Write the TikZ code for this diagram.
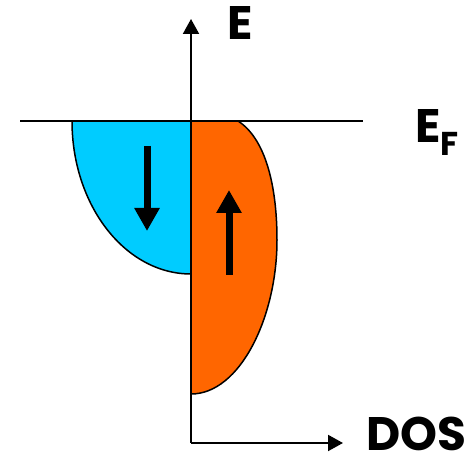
\documentclass[tikz,border=0pt]{standalone}
\usepackage{fontspec}
\setmainfont{Poppins}
\usetikzlibrary{arrows.meta, positioning}
\definecolor{spindown}{HTML}{00CCFF}
\definecolor{spinup}  {HTML}{FF6600}
\tikzset{
  axis/.style={line width=2pt, -{Triangle[width=16pt,length=15pt]}},
  spinarrow/.style={line width=7pt, -{Triangle[width=24pt,length=23pt]}},
  band/.style={draw=black, line width=1.5pt},
  lbl/.style={font=\fontsize{47}{47}\selectfont\bfseries, inner sep=0pt, anchor=base west}
}
\begin{document}
\begin{tikzpicture}[x=1pt, y=1pt]
  \useasboundingbox (0,0) rectangle (474,457);
  % bands
  \fill[spindown] (72,336) arc[start angle=180, end angle=270, x radius=119, y radius=153] -- (191,336) -- cycle;
  \draw[band] (72,336) arc[start angle=180, end angle=270, x radius=119, y radius=153];
  \fill[spinup] (191,336) -- (238,336) .. controls (266,318) and (277,270) .. (277,217)
    .. controls (277,140) and (240,63) .. (191,63) -- cycle;
  \draw[band] (238,336) .. controls (266,318) and (277,270) .. (277,217)
    .. controls (277,140) and (240,63) .. (191,63);
  % axes
  \coordinate (o) at (191,14);
  \coordinate (etop) at (191,438);
  \coordinate (dosend) at (343,14);
  \coordinate (efl) at (20,336);
  \coordinate (efr) at (363,336);
  \draw[axis] (o) -- (etop);
  \draw[axis] (o) -- (dosend);
  \draw[line width=2pt] (efl) -- (efr);
  % spins
  \coordinate (dn1) at (147,311);
  \coordinate (dn2) at (147,226);
  \coordinate (up1) at (229,182);
  \coordinate (up2) at (229,267);
  \draw[spinarrow] (dn1) -- (dn2);
  \draw[spinarrow] (up1) -- (up2);
  % labels
  \node[lbl] (elabel) at (227,417) {E};
  \node[lbl] (eflabel) at (415,314) {E\raisebox{-13pt}{\fontsize{33}{33}\selectfont F}};
  \node[lbl] (doslabel) at (366,6) {DOS};
\end{tikzpicture}
\end{document}
